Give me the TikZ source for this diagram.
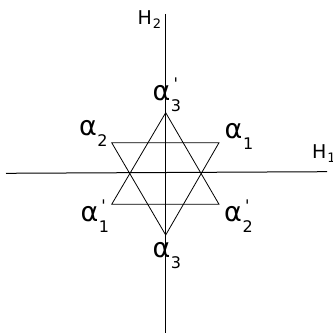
\documentclass[tikz,border=0pt]{standalone}
\usepackage{fontspec}
\setmainfont{DejaVu Sans}
\usepackage{tikz}
\usetikzlibrary{positioning}

\newcommand{\subsz}{\fontsize{16}{16}\selectfont}
\newcommand{\rootlbl}[2]{\fontsize{27}{27}\selectfont α\rlap{\kern3pt\raisebox{10pt}{\subsz #2}}\kern0.5pt\raisebox{-11pt}{\subsz #1}}
\newcommand{\hlbl}[1]{\fontsize{19}{19}\selectfont H\kern1pt\raisebox{-4pt}{\fontsize{13}{13}\selectfont #1}}

\begin{document}
\begin{tikzpicture}[x=1pt, y=-1pt, every node/.style={inner sep=0pt, anchor=base west}]
  \useasboundingbox (0,0) rectangle (332,334);
  \tikzset{axis/.style={line width=1pt}, star/.style={line width=0.8pt, line join=miter}}
  % axes
  \coordinate (hl) at (6,173.3);
  \coordinate (hr) at (327,171.7);
  \coordinate (vt) at (165.6,14);
  \coordinate (vb) at (165.6,333);
  \draw[axis] (hl) -- (hr);
  \draw[axis] (vt) -- (vb);
  % star
  \coordinate (u1) at (165.7,112.7);
  \coordinate (u2) at (111.7,204.3);
  \coordinate (u3) at (219,204.3);
  \coordinate (d1) at (111.7,142.7);
  \coordinate (d2) at (219,142.7);
  \coordinate (d3) at (165.7,235);
  \draw[star] (u1) -- (u2) -- (u3) -- cycle;
  \draw[star] (d1) -- (d2) -- (d3) -- cycle;
  % labels
  \node (h2) at (137.5,24.5)  {\hlbl{2}};
  \node (h1) at (312,158)     {\hlbl{1}};
  \node (a3p) at (152.5,100)  {\rootlbl{3}{\textquotesingle}};
  \node (a2) at (79,135)      {\rootlbl{2}{}};
  \node (a1) at (224.5,138)   {\rootlbl{1}{}};
  \node (a1p) at (80.5,221.7) {\rootlbl{1}{\textquotesingle}};
  \node (a2p) at (224,221.7)  {\rootlbl{2}{\textquotesingle}};
  \node (a3) at (152.5,257.3) {\rootlbl{3}{}};
\end{tikzpicture}
\end{document}
